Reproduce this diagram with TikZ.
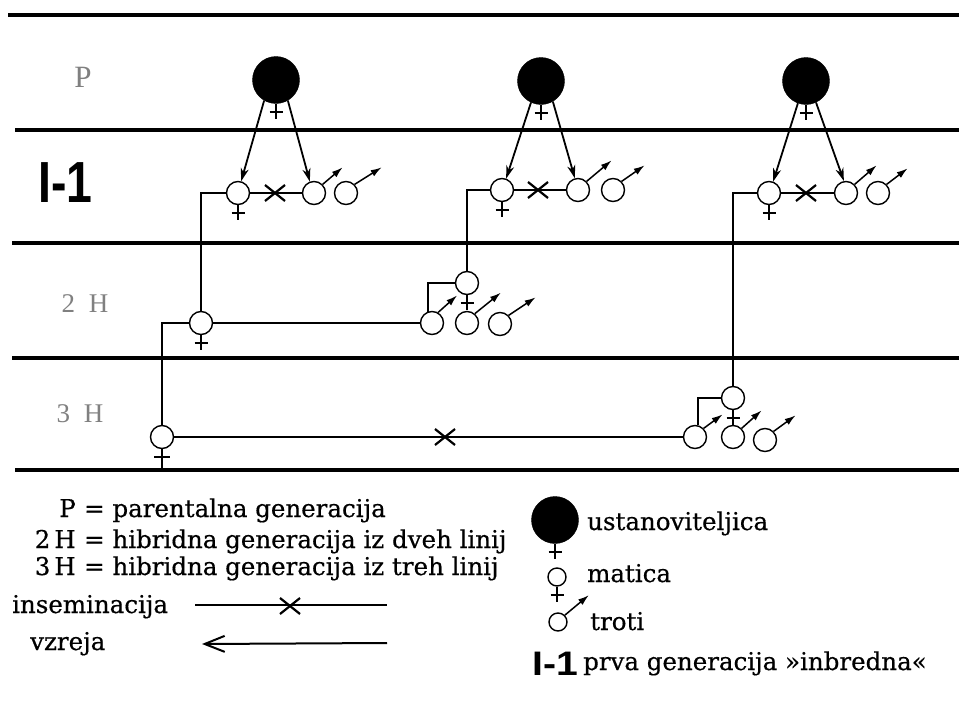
\documentclass[tikz,border=0pt]{standalone}
\usepackage{fontspec}
\setmainfont{DejaVu Serif}[FakeBold=0.5]
\newfontfamily\labfont{Liberation Serif}
\newfontfamily\bsans{Liberation Sans}
\usetikzlibrary{arrows.meta}
\begin{document}
\begin{tikzpicture}[x=1pt,y=-1pt,
  rule/.style={line width=3.4pt},
  conn/.style={line width=1.8pt},
  queen/.style={circle,draw,line width=1.4pt,minimum size=23pt,inner sep=0pt,fill=white},
  lqueen/.style={queen,minimum size=18pt},
  founder/.style={circle,fill=black,draw=black,minimum size=47pt,inner sep=0pt},
  parr/.style={line width=1.8pt,-{Stealth[length=13pt,width=8pt,inset=4pt]}},
  marr/.style={line width=1.5pt,-{Latex[length=11pt,width=7pt]}},
  fem/.pic={\draw[line width=2.2pt] (0,0) -- (0,15) (-6.5,8) -- (6.5,8);},
  femlong/.pic={\draw[line width=2.2pt] (0,0) -- (0,22) (-8,8) -- (8,8);},
  xmark/.pic={\draw[line width=2.2pt] (-10,-8) -- (10,8) (-10,8) -- (10,-8);},
  legtext/.style={anchor=base west,font=\fontsize{24.5}{28}\selectfont,inner sep=0pt},
  gen/.style={font=\labfont\fontsize{27}{30}\selectfont,text=black!50,inner sep=0pt}
]
\useasboundingbox (0,0) rectangle (959,707);
% rules
\draw[rule] (8,15) -- (959,15);
\draw[rule] (15,130) -- (959,130);
\draw[rule] (12,243) -- (959,243);
\draw[rule] (12,358) -- (959,358);
\draw[rule] (15,470) -- (959,470);
% generation labels
\node[gen,font=\labfont\fontsize{31}{34}\selectfont] (lP) at (83,77) {P};
\node[gen] (l2H) at (85,304) {2\hspace{14pt}H};
\node[gen] (l3H) at (80,414) {3\hspace{14pt}H};
\node[anchor=base west,inner sep=0pt] (lI1) at (38,202) {\scalebox{0.8}[1]{\bsans\bfseries\fontsize{58}{60}\selectfont I-1}};
% founders
\node[founder] (f1) at (276,80) {};
\node[founder] (f2) at (541,81) {};
\node[founder] (f3) at (806,81) {};
% I-1 queens and drones
\node[queen] (q1) at (238,193) {};
\node[queen] (d1a) at (314,193) {};
\node[queen] (d1b) at (346,193) {};
\node[queen] (q2) at (502,190) {};
\node[queen] (d2a) at (578,190) {};
\node[queen] (d2b) at (613,190) {};
\node[queen] (q3) at (769,193) {};
\node[queen] (d3a) at (846,193) {};
\node[queen] (d3b) at (878,193) {};
% 2H
\node[queen] (h1) at (201,323) {};
\node[queen] (t2) at (467,283) {};
\node[queen] (b2l) at (432,323) {};
\node[queen] (b2m) at (467,323) {};
\node[queen] (b2r) at (500,324) {};
% 3H
\node[queen] (g) at (162,437) {};
\node[queen] (t3) at (733,398) {};
\node[queen] (b3l) at (695,437) {};
\node[queen] (b3m) at (733,437) {};
\node[queen] (b3r) at (765,440) {};
% female marks
\foreach \n in {f1,f2,f3,q1,q2,q3,h1,t2,t3} \pic at (\n.south) {fem};
\pic at (g.south) {femlong};
% founder arrows
\draw[parr] (f1.240) -- (q1.75);
\draw[parr] (f1.300) -- (d1a.110);
\draw[parr] (f2.245) -- (q2.70);
\draw[parr] (f2.300) -- (d2a.105);
\draw[parr] (f3.250) -- (q3.70);
\draw[parr] (f3.295) -- (d3a.100);
% inseminations
\draw[conn] (q1.east) -- (d1a.west);
\draw[conn] (q2.east) -- (d2a.west);
\draw[conn] (q3.east) -- (d3a.west);
\pic at (275,193) {xmark};
\pic at (538,190) {xmark};
\pic at (806,193) {xmark};
% drone arrows
\draw[marr] (d1a.45) -- ++(20,-17);
\draw[marr] (d1b.45) -- ++(27,-17);
\draw[marr] (d2a.45) -- ++(25,-21);
\draw[marr] (d2b.45) -- ++(23,-16);
\draw[marr] (d3a.45) -- ++(22,-19);
\draw[marr] (d3b.45) -- ++(21,-16);
\draw[marr] (b2l.60) -- ++(19,-17);
\draw[marr] (b2m.50) -- ++(26,-21);
\draw[marr] (b2r.45) -- ++(27,-18);
\draw[marr] (b3l.45) -- ++(19,-14);
\draw[marr] (b3m.45) -- ++(20,-18);
\draw[marr] (b3r.45) -- ++(22,-16);
% breeding lines
\draw[conn] (q1.west) -| (h1.north);
\draw[conn] (q2.west) -| (t2.north);
\draw[conn] (q3.west) -| (t3.north);
\draw[conn] (h1.east) -- (b2l.west);
\draw[conn] (h1.west) -| (g.north);
\draw[conn] (g.east) -- (b3l.west);
\pic at (445,437) {xmark};
\draw[line width=2.4pt] (b2l.110) |- (t2.west);
\draw[conn] (b3l.75) |- (t3.west);
% legend left
\node[legtext,anchor=base east] (kP) at (76,517) {P};
\node[legtext] (tP) at (84,517) {= parentalna generacija};
\node[legtext,anchor=base east] (k2) at (76,548) {2\,H};
\node[legtext] (t2H) at (84,548) {= hibridna generacija iz dveh linij};
\node[legtext,anchor=base east] (k3) at (76,575) {3\,H};
\node[legtext] (t3H) at (84,575) {= hibridna generacija iz treh linij};
\node[legtext] (tins) at (12,613) {inseminacija};
\node[legtext] (tvz) at (30,650) {vzreja};
\coordinate (i1) at (195,605);
\coordinate (i2) at (387,605);
\draw[line width=2pt] (i1) -- (i2);
\pic at (290,606) {xmark};
\coordinate (v1) at (387,643);
\coordinate (v2) at (202,644);
\draw[line width=2pt,-{Straight Barb[length=20pt,width=16pt]}] (v1) -- (v2);
% legend right
\node[founder] (lf) at (555,520) {};
\pic at (lf.south) {fem};
\node[lqueen] (lq) at (557,577) {};
\pic at (lq.south) {fem};
\node[lqueen] (ld) at (558,622) {};
\draw[marr] (ld.45) -- ++(24,-20);
\node[legtext] (tu) at (587,530) {ustanoviteljica};
\node[legtext] (tm) at (587,582) {matica};
\node[legtext] (tt) at (590,630) {troti};
\node[anchor=base west,inner sep=0pt] (sI1) at (532,675) {\scalebox{1.15}[1]{\bsans\bfseries\fontsize{34}{36}\selectfont I-1}};
\node[legtext] (tprva) at (583,670) {prva generacija »inbredna«};
\end{tikzpicture}
\end{document}
